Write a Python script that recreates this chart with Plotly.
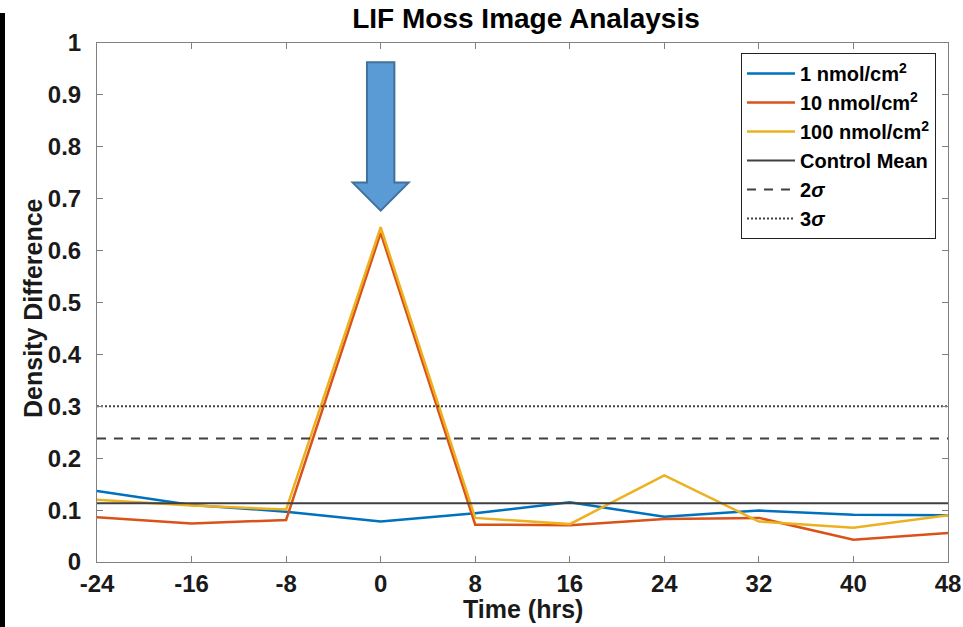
import plotly.graph_objects as go

# ---- data ----
time_hrs = [-24, -16, -8, 0, 8, 16, 24, 32, 40, 48]
dose_1 = [0.137, 0.110, 0.097, 0.078, 0.094, 0.115, 0.087, 0.099, 0.091, 0.090]
dose_10 = [0.086, 0.074, 0.081, 0.634, 0.072, 0.071, 0.083, 0.085, 0.043, 0.056]
dose_100 = [0.120, 0.109, 0.101, 0.645, 0.085, 0.073, 0.167, 0.078, 0.066, 0.090]
control_mean = 0.113
two_sigma = 0.238
three_sigma = 0.300
x_ticks = [-24, -16, -8, 0, 8, 16, 24, 32, 40, 48]
y_ticks = [0, 0.1, 0.2, 0.3, 0.4, 0.5, 0.6, 0.7, 0.8, 0.9, 1]
y_tick_labels = ["0", "0.1", "0.2", "0.3", "0.4", "0.5", "0.6", "0.7", "0.8", "0.9", "1"]

# event marker (arrow) at exposure time
event_time = 0

W, H = 963, 627
ML, MR, MT, MB = 97, 15, 43, 65

BOLD = "Liberation Sans, Arial, sans-serif"

fig = go.Figure()
fig.add_trace(go.Scatter(x=time_hrs, y=dose_1, mode="lines", name="1 nmol/cm<sup>2</sup>",
                         line=dict(color="#0072BD", width=2.5)))
fig.add_trace(go.Scatter(x=time_hrs, y=dose_10, mode="lines", name="10 nmol/cm<sup>2</sup>",
                         line=dict(color="#D95319", width=2.5)))
fig.add_trace(go.Scatter(x=time_hrs, y=dose_100, mode="lines", name="100 nmol/cm<sup>2</sup>",
                         line=dict(color="#EDB120", width=2.5)))
xr = [x_ticks[0], x_ticks[-1]]
fig.add_trace(go.Scatter(x=xr, y=[control_mean] * 2, mode="lines", name="Control Mean",
                         line=dict(color="#404040", width=2)))
fig.add_trace(go.Scatter(x=xr, y=[two_sigma] * 2, mode="lines", name="2<i>σ</i>",
                         line=dict(color="#404040", width=2, dash="9px,8px")))
fig.add_trace(go.Scatter(x=xr, y=[three_sigma] * 2, mode="lines", name="3<i>σ</i>",
                         line=dict(color="#404040", width=2, dash="2px,2px")))

# block arrow pointing at the event (data coords)
shaft_hw, head_hw = 1.16, 2.37
top_y, head_y, tip_y = 0.963, 0.731, 0.677
ex = event_time
path = (f"M {ex-shaft_hw},{top_y} L {ex+shaft_hw},{top_y} L {ex+shaft_hw},{head_y} "
        f"L {ex+head_hw},{head_y} L {ex},{tip_y} L {ex-head_hw},{head_y} "
        f"L {ex-shaft_hw},{head_y} Z")
fig.add_shape(type="path", path=path, xref="x", yref="y",
              fillcolor="#5B9BD5", line=dict(color="#41719C", width=2))

pw = W - ML - MR
ph = H - MT - MB


def px_x(p):
    return (p - ML) / pw


def px_y(p):
    return (H - MB - p) / ph


# black strip at left edge of the picture
fig.add_shape(type="rect", xref="paper", yref="paper",
              x0=px_x(0), x1=px_x(5), y0=px_y(627), y1=px_y(13),
              fillcolor="black", line=dict(width=0), layer="above")

axis_common = dict(showgrid=False, zeroline=False, showline=True, linecolor="#808080",
                   linewidth=1, mirror="ticks", ticks="inside", ticklen=6, automargin=False,
                   tickcolor="#808080", tickfont=dict(family=BOLD, size=24, color="#1a1a1a"))

fig.update_layout(
    width=W, height=H,
    margin=dict(l=ML, r=MR, t=MT, b=MB, autoexpand=False),
    paper_bgcolor="white", plot_bgcolor="white",
    title=dict(text="<b>LIF Moss Image Analaysis</b>", x=526 / W, xanchor="center",
               y=1 - 18 / H, yanchor="middle", yref="container",
               font=dict(family=BOLD, size=28, color="black")),
    xaxis=dict(range=xr, tickvals=x_ticks, ticktext=[f"<b>{t}</b>" for t in x_ticks],
               **axis_common),
    yaxis=dict(range=[0, 1], tickvals=y_ticks, ticktext=[f"<b>{t}</b>" for t in y_tick_labels],
               ticklabelstandoff=10, **axis_common),
    legend=dict(x=px_x(936), y=px_y(53), xanchor="right", yanchor="top",
                bgcolor="white", bordercolor="#222222", borderwidth=1,
                font=dict(family=BOLD, size=20, color="black"),
                tracegroupgap=0, itemwidth=48),
    showlegend=True,
    annotations=[
        dict(text="<b>Time (hrs)</b>", xref="paper", yref="paper", x=px_x(523), y=px_y(609),
             xanchor="center", yanchor="middle", showarrow=False,
             font=dict(family=BOLD, size=25, color="#1a1a1a")),
        dict(text="<b>Density Difference</b>", xref="paper", yref="paper", x=px_x(33), y=px_y(308),
             xanchor="center", yanchor="middle", showarrow=False, textangle=-90,
             font=dict(family=BOLD, size=25, color="#1a1a1a")),
    ],
)
for tr in fig.data:
    tr.name = f"<b>{tr.name}</b>"

fig.write_html("out.html", config={"displayModeBar": False},
               post_script="document.body.style.margin='0';")
